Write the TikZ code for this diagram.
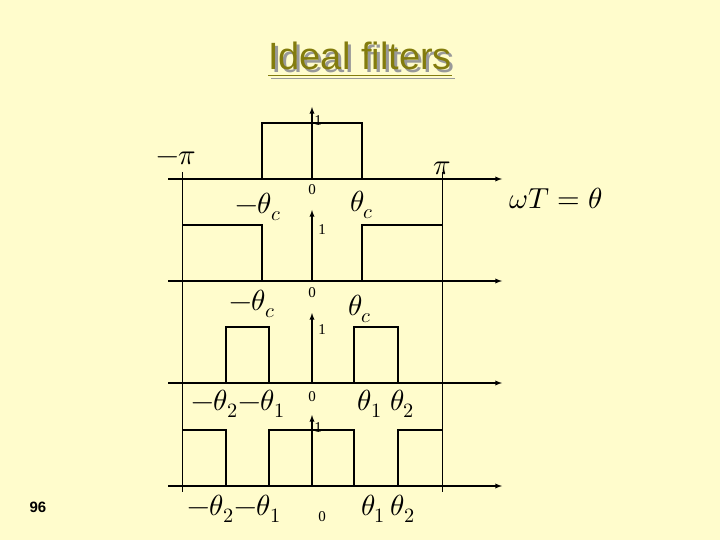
\documentclass[tikz,border=0pt]{standalone}
\usepackage{fontspec}
\setsansfont{Liberation Sans}
\setmainfont{Liberation Serif}
\usepackage{unicode-math}
\setmathfont{Latin Modern Math}
\begin{document}
\begin{tikzpicture}[x=1pt,y=-1pt,
  ax/.style={line width=1.3pt,-latex},
  sig/.style={line width=1.6pt},
  thin/.style={line width=0.7pt},
  lab/.style={font=\fontsize{29}{30}\selectfont},
  sm/.style={font=\fontsize{15}{16}\selectfont}]
\fill[yellow!20] (0,0) rectangle (720,540);
\node[font=\sffamily\fontsize{38}{40}\selectfont,text=black!40] (tsh) at (363,63) {\underline{Ideal filters}};
\node[font=\sffamily\fontsize{38}{40}\selectfont,text=olive!90!black] (title) at (360,60) {\underline{Ideal filters}};
\draw[thin] (182,172) -- (182,492);
\draw[thin] (442,172) -- (442,492);
\foreach \y/\t in {179/107,281/210,383/313,486/415}{
  \draw[ax] (168,\y) -- (502,\y);
  \draw[ax] (312,\y) -- (312,\t);
}
\draw[sig] (262,179) -- (262,123) -- (362,123) -- (362,179);
\draw[sig] (182,225) -- (262,225) -- (262,281);
\draw[sig] (362,281) -- (362,225) -- (442,225);
\draw[sig] (226,383) -- (226,327) -- (269,327) -- (269,383);
\draw[sig] (354,383) -- (354,327) -- (398,327) -- (398,383);
\draw[sig] (182,430) -- (226,430) -- (226,486);
\draw[sig] (269,486) -- (269,430) -- (354,430) -- (354,486);
\draw[sig] (398,486) -- (398,430) -- (442,430);
\foreach \x/\y in {318/121,322/230,322/330,318/428} \node[sm] at (\x,\y) {1};
\node[sm] at (312,190) {0};
\node[sm] at (312,293) {0};
\node[sm] at (312,397) {0};
\node[sm] at (322,517) {0};
\node[lab] at (176,158) {$-\pi$};
\node[lab] at (442,168) {$\pi$};
\node[lab] at (556,198) {$\omega T=\theta$};
\node[lab] at (258,207) {$-\theta_c$};
\node[lab] at (362,205) {$\theta_c$};
\node[lab] at (252,304) {$-\theta_c$};
\node[lab] at (360,309) {$\theta_c$};
\node[lab] at (238,404) {$-\theta_2{-}\theta_1$};
\node[lab] at (386,404) {$\theta_1\;\theta_2$};
\node[lab] at (234,509) {$-\theta_2{-}\theta_1$};
\node[lab] at (388,509) {$\theta_1\,\theta_2$};
\node[font=\sffamily\bfseries\fontsize{15}{16}\selectfont] at (38,507) {96};
\end{tikzpicture}
\end{document}
